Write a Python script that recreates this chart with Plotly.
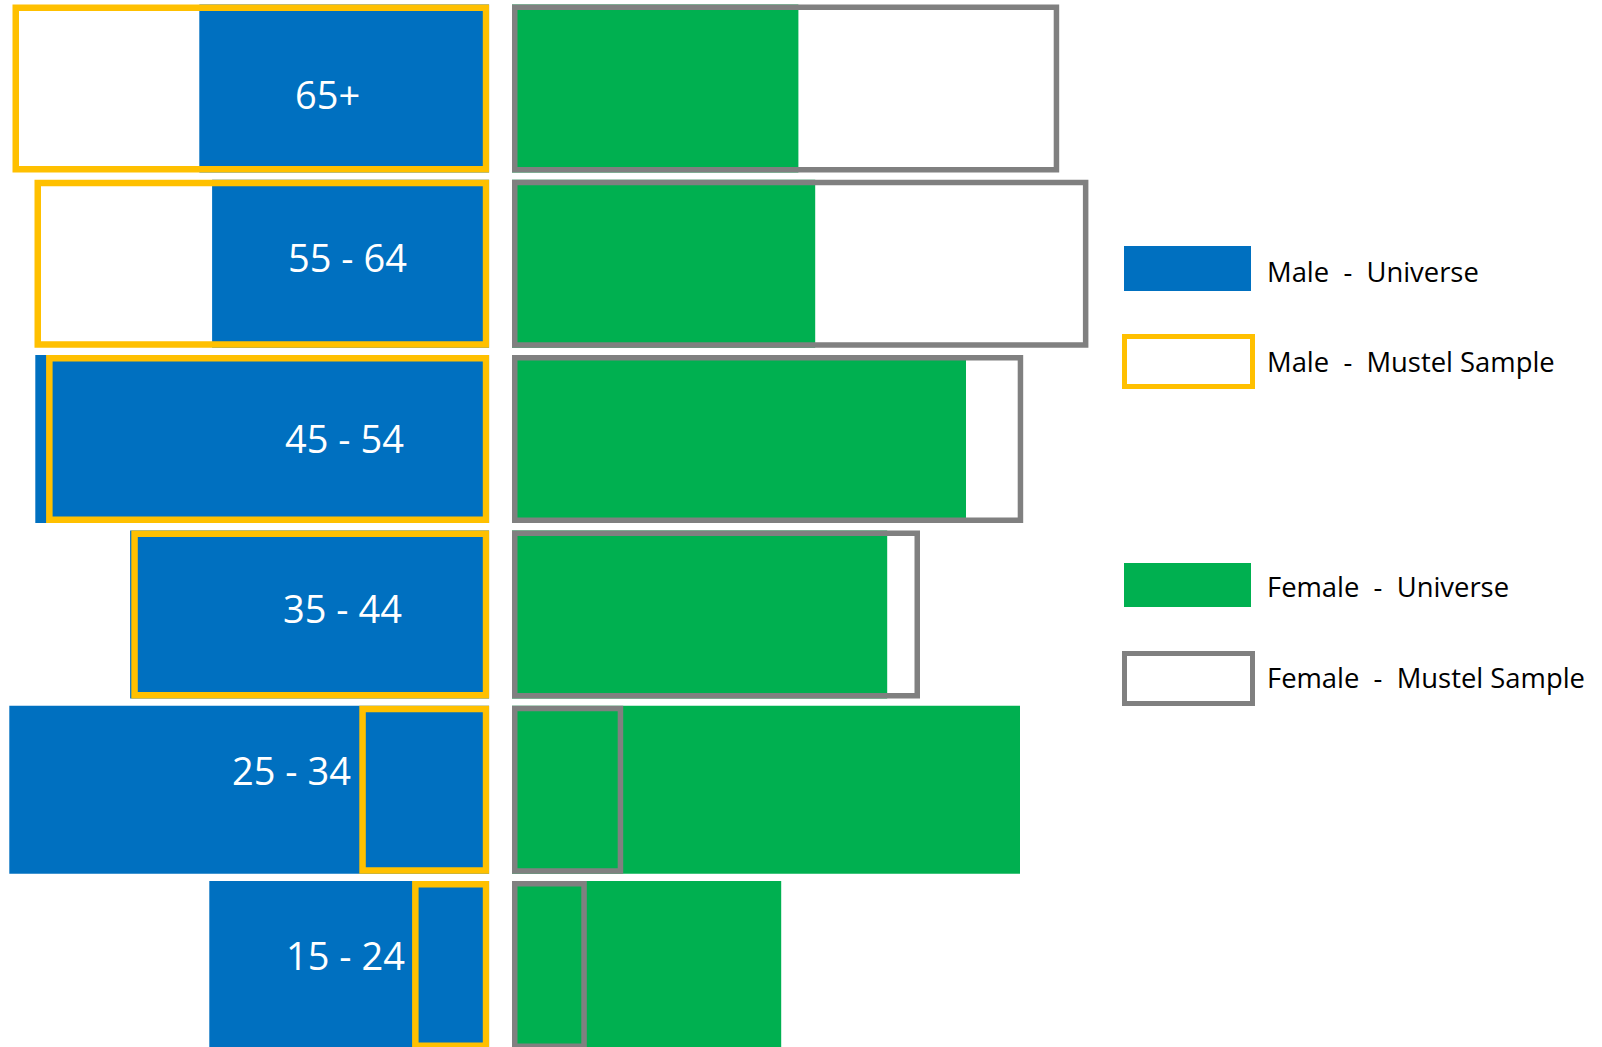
import plotly.graph_objects as go

# Age bands, bottom to top
age_groups = ["15 - 24", "25 - 34", "35 - 44", "45 - 54", "55 - 64", "65+"]

# Share of population (%) per age band
male_universe = [7.0, 12.0, 8.98, 11.35, 6.93, 7.25]
male_sample = [1.93, 3.25, 8.95, 11.08, 11.37, 11.92]
female_universe = [6.73, 12.7, 9.38, 11.35, 7.58, 7.16]
female_sample = [1.87, 2.78, 10.2, 12.78, 14.41, 13.68]

legend_labels = [
    "Male  -  Universe",
    "Male  -  Mustel Sample",
    "Female  -  Universe",
    "Female  -  Mustel Sample",
]

BLUE = "#0070C0"
GREEN = "#00B050"
YELLOW = "#FFC000"
GREY = "#808080"

W, H = 1602, 1047
PX_PER_UNIT = 40.0
MALE_ZERO = 489.3
FEMALE_ZERO = 512.0
FEMALE_RIGHT = 1100.0
ROW_PITCH = 175.3
BAR_PX = 168.0
YELLOW_W = 6.5
GREY_W = 5.5

rows = list(range(len(age_groups)))
bar_w = BAR_PX / ROW_PITCH


def outline_geom(values, stroke):
    # keep the outline stroke inside the nominal bar extent
    inset = stroke / 2 / PX_PER_UNIT
    return [v - 2 * inset for v in values], inset, (BAR_PX - stroke) / ROW_PITCH


fig = go.Figure()

fig.add_trace(go.Bar(
    y=rows, x=male_universe, orientation="h", xaxis="x", yaxis="y",
    width=bar_w, marker=dict(color=BLUE, line=dict(width=0)),
    name="Male - Universe", showlegend=False, hoverinfo="skip",
))
mx, mbase, mw = outline_geom(male_sample, YELLOW_W)
fig.add_trace(go.Bar(
    y=rows, x=mx, base=mbase, orientation="h", xaxis="x", yaxis="y",
    width=mw, marker=dict(color="rgba(0,0,0,0)", line=dict(color=YELLOW, width=YELLOW_W)),
    name="Male - Mustel Sample", showlegend=False, hoverinfo="skip",
))
fig.add_trace(go.Bar(
    y=rows, x=female_universe, orientation="h", xaxis="x2", yaxis="y",
    width=bar_w, marker=dict(color=GREEN, line=dict(width=0)),
    name="Female - Universe", showlegend=False, hoverinfo="skip",
))
fx, fbase, fw = outline_geom(female_sample, GREY_W)
fig.add_trace(go.Bar(
    y=rows, x=fx, base=fbase, orientation="h", xaxis="x2", yaxis="y",
    width=fw, marker=dict(color="rgba(0,0,0,0)", line=dict(color=GREY, width=GREY_W)),
    name="Female - Mustel Sample", showlegend=False, hoverinfo="skip",
))

# Age band labels inside the male bars
label_x = [3.6, 4.95, 3.68, 3.61, 3.55, 4.04]
label_dy = [-10, -20, -6, -1.5, -7, 5.5]
annotations = []
for r, text, lx, dy in zip(rows, age_groups, label_x, label_dy):
    annotations.append(dict(
        x=lx, y=r, xref="x", yref="y", text=text, showarrow=False,
        xanchor="center", yanchor="middle", yshift=-dy,
        font=dict(family="Open Sans", size=38, color="white"),
    ))


# Legend on the right
def px_x(v):
    return v / W


def px_y(v):
    return 1 - v / H


shapes = []
swatches = [
    dict(fill=BLUE, line=None, y0=246, y1=291),
    dict(fill="white", line=YELLOW, y0=334, y1=389),
    dict(fill=GREEN, line=None, y0=563, y1=607),
    dict(fill="white", line=GREY, y0=651, y1=706),
]
for sw in swatches:
    if sw["line"] is None:
        shapes.append(dict(
            type="rect", xref="paper", yref="paper",
            x0=px_x(1124), x1=px_x(1251), y0=px_y(sw["y1"]), y1=px_y(sw["y0"]),
            fillcolor=sw["fill"], line=dict(width=0),
        ))
    else:
        lw = 5
        shapes.append(dict(
            type="rect", xref="paper", yref="paper",
            x0=px_x(1122 + lw / 2), x1=px_x(1255 - lw / 2),
            y0=px_y(sw["y1"] - lw / 2), y1=px_y(sw["y0"] + lw / 2),
            fillcolor=sw["fill"], line=dict(color=sw["line"], width=lw),
        ))

legend_y = [271, 361, 586, 677]
for text, ly in zip(legend_labels, legend_y):
    annotations.append(dict(
        x=px_x(1265), y=px_y(ly), xref="paper", yref="paper", text=text,
        showarrow=False, xanchor="left", yanchor="middle",
        font=dict(family="Open Sans", size=27.4, color="black"),
    ))

y_top = (len(age_groups) - 1) + 88.5 / ROW_PITCH
y_bottom = (965 - H) / ROW_PITCH

fig.update_layout(
    width=W, height=H,
    margin=dict(l=0, r=0, t=0, b=0, pad=0),
    paper_bgcolor="white", plot_bgcolor="white",
    barmode="overlay", showlegend=False,
    xaxis=dict(domain=[0, MALE_ZERO / W], range=[MALE_ZERO / PX_PER_UNIT, 0],
               visible=False, fixedrange=True),
    xaxis2=dict(domain=[FEMALE_ZERO / W, FEMALE_RIGHT / W],
                range=[0, (FEMALE_RIGHT - FEMALE_ZERO) / PX_PER_UNIT],
                visible=False, anchor="y", fixedrange=True),
    yaxis=dict(range=[y_bottom, y_top], visible=False, fixedrange=True),
    shapes=shapes, annotations=annotations,
)

fig.write_html("out.html", config={"displayModeBar": False})
